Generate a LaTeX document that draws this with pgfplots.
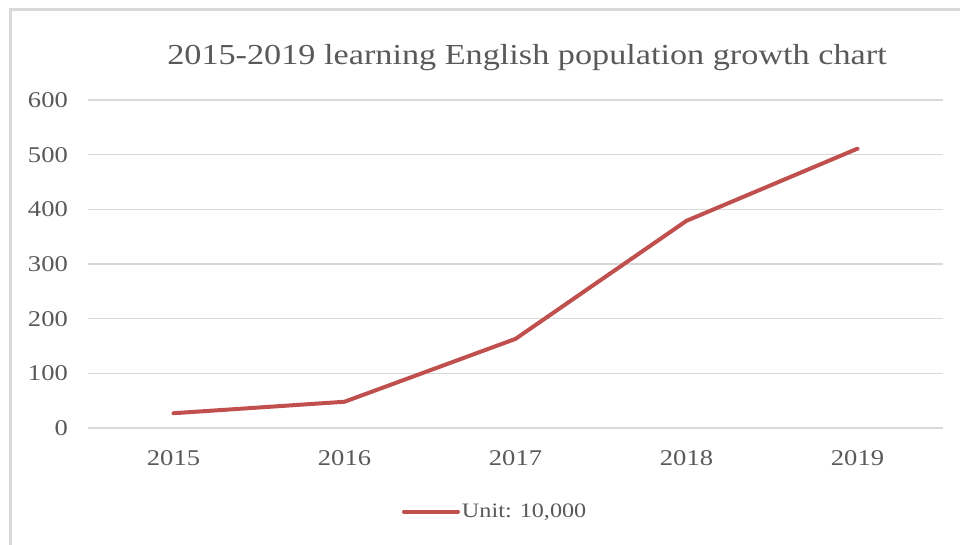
\documentclass[border=0pt]{standalone}
\usepackage{fontspec}
\setmainfont[FakeStretch=1.18]{Liberation Serif}
\usepackage{pgfplots}
\pgfplotsset{compat=1.18}
\definecolor{linered}{HTML}{C0504D}
\definecolor{txtgray}{HTML}{595959}
\definecolor{gridgray}{HTML}{D9D9D9}
\begin{document}
\begin{tikzpicture}[x=1pt,y=1pt]
\useasboundingbox (0,0) rectangle (960,545);
\draw[gridgray, line width=2.5pt] (10.5,0) -- (10.5,535.5) -- (960,535.5);
\node[anchor=base, text=txtgray, font=\fontsize{29}{34}\selectfont, inner sep=0pt] at (527,480) {2015-2019 learning English population growth chart};
\begin{axis}[
  at={(88pt,117pt)}, anchor=south west,
  scale only axis, width=855pt, height=328pt,
  xmin=-0.5, xmax=4.5, ymin=0, ymax=600,
  xtick={0,1,2,3,4}, xticklabels={2015,2016,2017,2018,2019},
  ytick={0,100,200,300,400,500,600},
  axis line style={draw=none},
  major tick length=0pt,
  tick style={draw=none},
  ymajorgrids, grid style={gridgray, line width=1.1pt},
  /pgf/number format/assume math mode=true,
  ticklabel style={text=txtgray, font=\fontsize{22.5}{27}\selectfont, inner sep=0pt},
  yticklabel style={anchor=east, xshift=-20pt},
  xticklabel style={anchor=north, yshift=-22pt},
  clip=false,
  legend style={at={(axis description cs:0.367,-0.255)}, anchor=west, draw=none, fill=none,
    inner sep=0pt, font=\fontsize{20.5}{25}\selectfont, text=txtgray,
    nodes={inner sep=2pt}},
  legend image code/.code={\draw[#1, line cap=round] (0pt,0pt) -- (54pt,0pt);},
]
\addplot[color=linered, line width=4pt, line cap=round, line join=round, mark=none]
  coordinates {(0,27) (1,48) (2,163) (3,379) (4,511)};
\addlegendentry{Unit: 10,000}
\end{axis}
\end{tikzpicture}
\end{document}
